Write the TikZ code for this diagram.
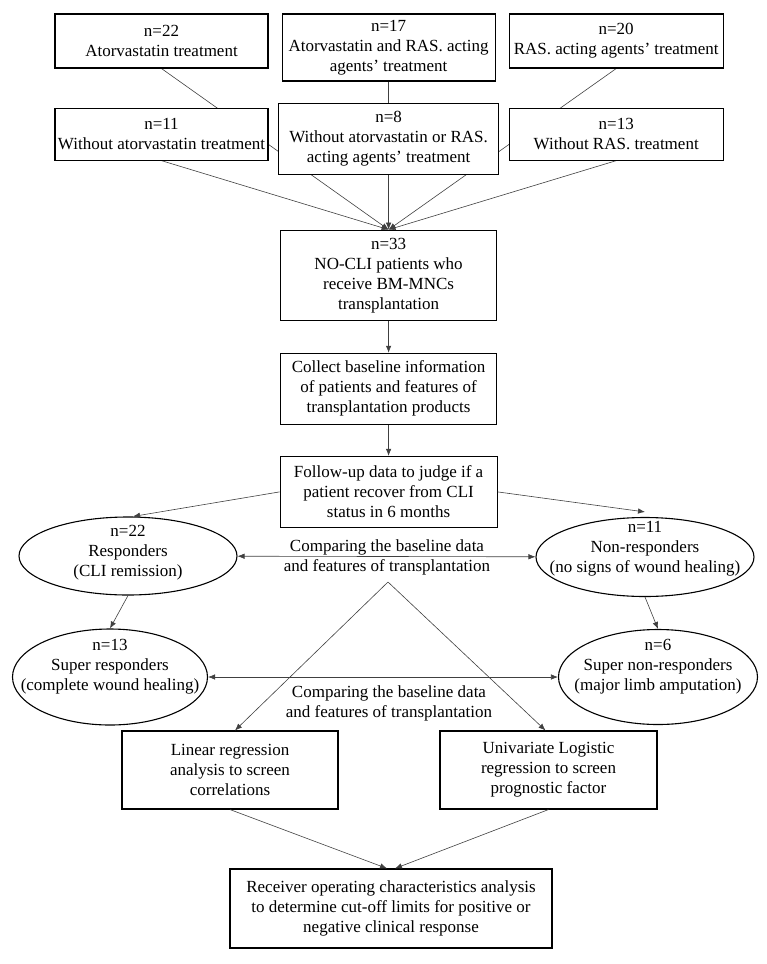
\documentclass[tikz,border=0pt]{standalone}
\usepackage{fontspec}
\setmainfont{Liberation Serif}
\usetikzlibrary{positioning,arrows.meta,shapes.geometric,backgrounds}

\begin{document}
\begin{tikzpicture}[x=1pt,y=1pt,
font=\fontsize{17}{20}\selectfont,
box/.style={rectangle,draw,line width=1.1pt,fill=white,align=center,inner sep=2pt},
ell/.style={ellipse,draw,line width=1.1pt,fill=white,inner sep=0pt},
arrow/.style={-{Latex[length=7pt,width=5.5pt]},line width=0.6pt,draw=black!75},
dbl/.style={{Latex[length=7pt,width=5.5pt]}-{Latex[length=7pt,width=5.5pt]},line width=0.6pt,draw=black!75}]
\useasboundingbox (0,0) rectangle (766,-964);

% treatment groups
\node[box,minimum width=213pt,minimum height=54pt] (a1) at (161.5,-41) {n=22\\Atorvastatin treatment};
\node[box,minimum width=213pt,minimum height=67pt,right=13pt of a1.north east,anchor=north west] (a2) {n=17\\Atorvastatin and RAS. acting\\agents' treatment};
\node[box,minimum width=214pt,minimum height=54pt,right=13pt of a2.north east,anchor=north west] (a3) {n=20\\RAS. acting agents' treatment};
\node[box,minimum width=213pt,minimum height=52pt,below=39pt of a1] (b1) {n=11\\Without atorvastatin treatment};
\node[box,minimum width=220pt,minimum height=71pt,below=21pt of a2] (b2) {n=8\\Without atorvastatin or RAS.\\acting agents' treatment};
\node[box,minimum width=214pt,minimum height=52pt,below=39pt of a3] (b3) {n=13\\Without RAS. treatment};

% main column
\node[box,minimum width=216pt,minimum height=90pt,below=55pt of b2] (pat) {n=33\\NO-CLI patients who\\receive BM-MNCs\\transplantation};
\node[box,minimum width=216pt,minimum height=71pt,below=32pt of pat] (info) {Collect baseline information\\of patients and features of\\transplantation products};
\node[box,minimum width=217pt,minimum height=71pt,below=31pt of info] (fol) {Follow-up data to judge if a\\patient recover from CLI\\status in 6 months};

% outcome groups
\node[ell,minimum width=218pt,minimum height=78pt,label={[align=center,yshift=3pt]center:{n=22\\Responders\\(CLI remission)}}] (resp) at (128,-556) {};
\node[ell,minimum width=218pt,minimum height=79pt,label={[align=center,yshift=8pt]center:{n=11\\Non-responders\\(no signs of wound healing)}}] (nonr) at (645,-557) {};
\node[ell,minimum width=195pt,minimum height=96pt,label={[align=center,yshift=10pt]center:{n=13\\Super responders\\(complete wound healing)}}] (sresp) at (110,-677) {};
\node[ell,minimum width=199pt,minimum height=95pt,label={[align=center,yshift=10pt]center:{n=6\\Super non-responders\\(major limb amputation)}}] (snon) at (658,-677) {};

\node[align=center] (cmp1) at (387,-557) {Comparing the baseline data\\and features of transplantation};
\node[align=center] (cmp2) at (389,-703) {Comparing the baseline data\\and features of transplantation};
\coordinate (apex) at (388,-582);

% analysis
\node[box,minimum width=216pt,minimum height=78pt] (lin) at (230,-770) {Linear regression\\analysis to screen\\correlations};
\node[box,minimum width=217pt,minimum height=78pt] (uni) at (548.5,-770) {Univariate Logistic\\regression to screen\\prognostic factor};
\node[box,minimum width=322pt,minimum height=79pt] (roc) at (391,-908.5) {Receiver operating characteristics analysis\\to determine cut-off limits for positive or\\negative clinical response};

\begin{scope}[on background layer]
\foreach \g in {a1,a2,a3,b1,b3} \draw[arrow] (\g.south) -- (pat.north);
\end{scope}
\draw[arrow] (pat) -- (info);
\draw[arrow] (info) -- (fol);
\draw[arrow] (fol.west) -- ([xshift=5pt]resp.north);
\draw[arrow] (fol.east) -- ([yshift=5pt]nonr.north);
\draw[arrow] (resp.south) -- (sresp.north);
\draw[arrow] (nonr.south) -- (snon.north);
\draw[dbl] (resp) -- (nonr);
\draw[dbl] (sresp) -- (snon);
\draw[arrow] (apex) -- ([xshift=5pt]lin.north);
\draw[arrow] (apex) -- ([xshift=-3pt]uni.north);
\draw[arrow] (lin.south) -- ([xshift=-4pt]roc.north);
\draw[arrow] (uni.south) -- ([xshift=4pt]roc.north);
\end{tikzpicture}
\end{document}
